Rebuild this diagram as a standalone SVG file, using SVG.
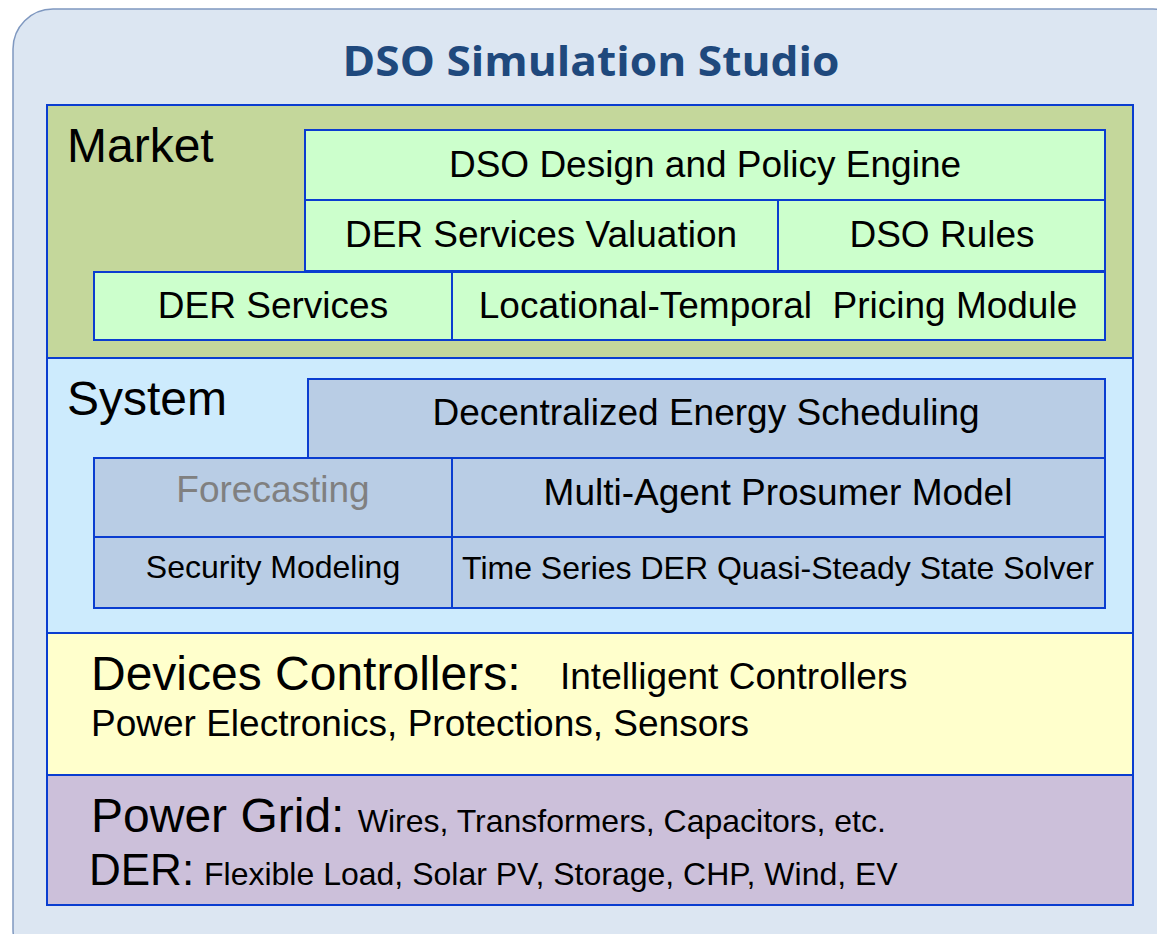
<svg xmlns="http://www.w3.org/2000/svg" width="1157" height="934" viewBox="0 0 1157 934">
  <style>
    .t { font-family: "Liberation Sans", Arial, sans-serif; fill: #000; }
    .lg { font-size: 48px; }
    .md { font-size: 37px; }
    .sm { font-size: 32px; }
    .c { text-anchor: middle; }
    .box { stroke: #0a3dd0; stroke-width: 2; }
    .layer { stroke: #0a3dd0; stroke-width: 2; }
    .g { fill: #ccffcc; }
    .b { fill: #b9cde5; }
  </style>
  <rect width="1157" height="934" fill="#ffffff"/>
  <!-- studio frame -->
  <rect x="13" y="9" width="1180" height="960" rx="40" ry="40" fill="#dce6f2" stroke="#7f98c0" stroke-width="1.5"/>
  <text x="591" y="76" text-anchor="middle" font-family="'Open Sans', 'Liberation Sans', sans-serif" font-weight="bold" font-size="42" fill="#1f497d" textLength="497" lengthAdjust="spacingAndGlyphs">DSO Simulation Studio</text>

  <!-- Market layer -->
  <g id="market">
    <rect class="layer" x="47" y="105" width="1086" height="253" fill="#c4d79b"/>
    <text class="t lg" x="67" y="162">Market</text>
  </g>
  <g id="dso-design">
    <rect class="box g" x="305" y="130" width="800" height="70"/>
    <text class="t md c" x="705" y="177">DSO Design and Policy Engine</text>
  </g>
  <g id="der-valuation">
    <rect class="box g" x="305" y="200" width="473" height="71"/>
    <text class="t md c" x="541" y="247">DER Services Valuation</text>
  </g>
  <g id="dso-rules">
    <rect class="box g" x="778" y="200" width="327" height="71"/>
    <text class="t md c" x="942" y="247">DSO Rules</text>
  </g>
  <g id="der-services">
    <rect class="box g" x="94" y="272" width="358" height="68"/>
    <text class="t md c" x="273" y="318">DER Services</text>
  </g>
  <g id="pricing">
    <rect class="box g" x="452" y="272" width="653" height="68"/>
    <text class="t md c" x="778" y="318" xml:space="preserve">Locational-Temporal  Pricing Module</text>
  </g>

  <!-- System layer -->
  <g id="system">
    <rect class="layer" x="47" y="358" width="1086" height="275" fill="#cdebfd"/>
    <text class="t lg" x="67" y="415">System</text>
  </g>
  <g id="scheduling">
    <rect class="box b" x="308" y="379" width="797" height="79"/>
    <text class="t md c" x="706" y="425">Decentralized Energy Scheduling</text>
  </g>
  <g id="forecasting">
    <rect class="box b" x="94" y="458" width="358" height="79"/>
    <text class="t md c" x="273" y="502" style="fill:#808080">Forecasting</text>
  </g>
  <g id="prosumer">
    <rect class="box b" x="452" y="458" width="653" height="79"/>
    <text class="t md c" x="778" y="505">Multi-Agent Prosumer Model</text>
  </g>
  <g id="security">
    <rect class="box b" x="94" y="537" width="358" height="71"/>
    <text class="t sm c" x="273" y="578">Security Modeling</text>
  </g>
  <g id="solver">
    <rect class="box b" x="452" y="537" width="653" height="71"/>
    <text class="t sm c" x="778" y="579">Time Series DER Quasi-Steady State Solver</text>
  </g>

  <!-- Devices layer -->
  <g id="devices">
    <rect class="layer" x="47" y="633" width="1086" height="142" fill="#ffffcc"/>
    <text class="t lg" x="91" y="690">Devices Controllers:</text>
    <text class="t md" x="560" y="689">Intelligent Controllers</text>
    <text class="t md" x="91" y="736">Power Electronics, Protections, Sensors</text>
  </g>

  <!-- Power grid layer -->
  <g id="power-grid">
    <rect class="layer" x="47" y="775" width="1086" height="130" fill="#ccc0da"/>
    <text class="t lg" x="91" y="832">Power Grid: <tspan class="sm">Wires, Transformers, Capacitors, etc.</tspan></text>
    <text class="t" x="89" y="885" font-size="44">DER:<tspan class="sm" x="204">Flexible Load, Solar PV, Storage, CHP, Wind, EV</tspan></text>
  </g>

  <g id="connectors"/>
</svg>
